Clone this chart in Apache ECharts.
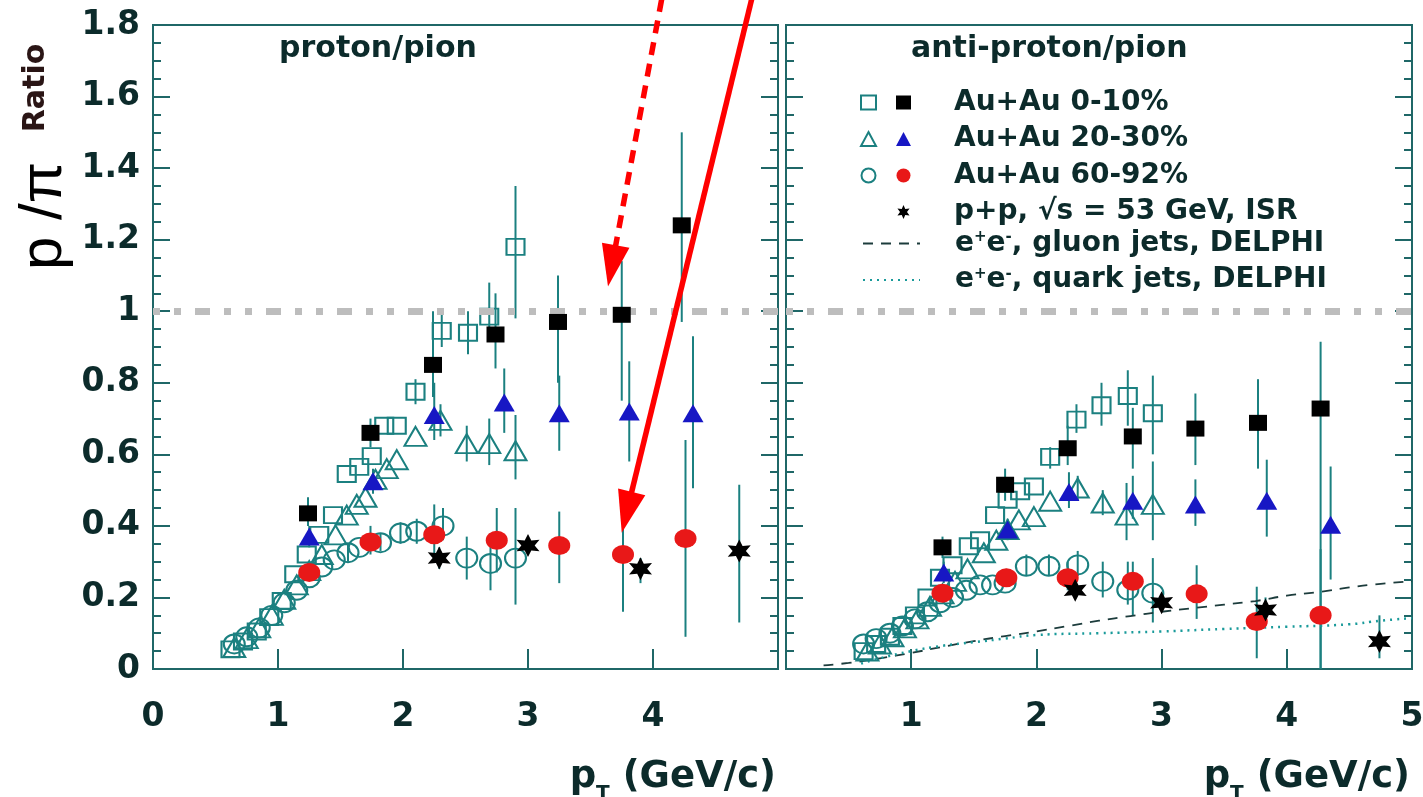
<!DOCTYPE html>
<html>
<head>
<meta charset="utf-8">
<script src="https://cdn.jsdelivr.net/npm/echarts@6.0.0/dist/echarts.min.js"></script>
<style>html,body{margin:0;padding:0;background:#fff}#chart{width:1423px;height:797px}</style>
</head>
<body>
<div id="chart"></div>
<script>
// ---- proton/pion (left panel): [pT, ratio]
const ppOpenSq = [[0.62,0.055],[0.72,0.077],[0.83,0.105],[0.93,0.145],[1.03,0.19],[1.13,0.265],[1.23,0.32],[1.33,0.375],[1.44,0.43],[1.55,0.545],[1.65,0.565],[1.75,0.595],[1.85,0.68],[1.95,0.68],[2.1,0.775],[2.31,0.945],[2.52,0.94],[2.69,0.985],[2.9,1.18]];
const ppOpenTri = [[0.65,0.06],[0.75,0.085],[0.85,0.115],[0.95,0.15],[1.05,0.195],[1.15,0.235],[1.25,0.275],[1.35,0.32],[1.46,0.375],[1.55,0.43],[1.63,0.46],[1.7,0.48],[1.78,0.53],[1.87,0.56],[1.95,0.585],[2.1,0.65],[2.3,0.695],[2.51,0.63],[2.69,0.63],[2.9,0.61]];
const ppOpenCirc = [[0.65,0.07],[0.75,0.09],[0.85,0.115],[0.95,0.15],[1.05,0.185],[1.15,0.22],[1.25,0.255],[1.35,0.285],[1.45,0.305],[1.56,0.325],[1.65,0.34],[1.82,0.353],[1.98,0.38],[2.11,0.385],[2.32,0.40],[2.51,0.31],[2.7,0.295],[2.9,0.31]];
const ppFillSq = [[1.24,0.435],[1.74,0.66],[2.24,0.85],[2.74,0.935],[3.24,0.97],[3.75,0.99],[4.23,1.24]];
const ppFillTri = [[1.25,0.37],[1.76,0.525],[2.25,0.71],[2.81,0.745],[3.25,0.715],[3.81,0.72],[4.32,0.715]];
const ppFillCirc = [[1.25,0.27],[1.74,0.355],[2.25,0.375],[2.75,0.36],[3.25,0.345],[3.76,0.32],[4.26,0.365]];
const ppStar = [[2.29,0.31],[3.0,0.345],[3.9,0.28],[4.69,0.33]];
// error bars: [pT, low, high]
const ppOpenSqErr = [[2.1,0.74,0.81],[2.31,0.90,1.0],[2.52,0.88,1.0],[2.69,0.92,1.08],[2.9,0.98,1.35]];
const ppOpenTriErr = [[2.3,0.65,0.74],[2.51,0.58,0.68],[2.69,0.57,0.70],[2.9,0.53,0.71]];
const ppOpenCircErr = [[1.56,0.30,0.35],[1.82,0.33,0.38],[1.98,0.35,0.41],[2.11,0.35,0.42],[2.32,0.36,0.45],[2.51,0.25,0.37],[2.7,0.22,0.38],[2.9,0.18,0.45]];
const ppFillSqErr = [[1.24,0.40,0.48],[1.74,0.62,0.70],[2.24,0.76,1.0],[2.74,0.84,1.05],[3.24,0.80,1.10],[3.75,0.75,1.14],[4.23,0.97,1.50]];
const ppFillTriErr = [[1.25,0.34,0.40],[1.76,0.49,0.56],[2.25,0.64,0.80],[2.81,0.66,0.84],[3.25,0.61,0.82],[3.81,0.58,0.86],[4.32,0.505,0.93]];
const ppFillCircErr = [[1.74,0.32,0.40],[2.25,0.30,0.46],[2.75,0.27,0.45],[3.25,0.24,0.44],[3.76,0.16,0.45],[4.26,0.09,0.64]];
const ppStarErr = [[2.29,0.28,0.34],[3.0,0.32,0.37],[3.9,0.24,0.31],[4.69,0.13,0.515]];

// ---- anti-proton/pion (right panel)
const apOpenSq = [[0.62,0.05],[0.72,0.07],[0.83,0.09],[0.93,0.12],[1.03,0.15],[1.13,0.2],[1.23,0.255],[1.33,0.29],[1.46,0.343],[1.55,0.36],[1.67,0.43],[1.77,0.473],[1.87,0.497],[1.98,0.51],[2.11,0.593],[2.32,0.697],[2.52,0.737],[2.73,0.763],[2.93,0.715]];
const apOpenTri = [[0.65,0.05],[0.75,0.07],[0.85,0.09],[0.95,0.115],[1.05,0.14],[1.15,0.175],[1.25,0.21],[1.35,0.245],[1.45,0.28],[1.58,0.325],[1.68,0.36],[1.77,0.39],[1.86,0.417],[1.98,0.426],[2.11,0.469],[2.33,0.506],[2.53,0.464],[2.72,0.43],[2.93,0.46]];
const apOpenCirc = [[0.62,0.07],[0.72,0.085],[0.83,0.1],[0.93,0.12],[1.03,0.14],[1.13,0.16],[1.23,0.185],[1.33,0.2],[1.44,0.22],[1.55,0.235],[1.65,0.235],[1.75,0.24],[1.92,0.287],[2.1,0.287],[2.33,0.291],[2.53,0.245],[2.73,0.221],[2.93,0.212]];
const apFillSq = [[1.25,0.34],[1.75,0.515],[2.25,0.617],[2.77,0.65],[3.27,0.672],[3.77,0.688],[4.27,0.728]];
const apFillTri = [[1.26,0.27],[1.77,0.39],[2.26,0.495],[2.77,0.47],[3.27,0.46],[3.84,0.47],[4.35,0.403]];
const apFillCirc = [[1.25,0.212],[1.76,0.255],[2.25,0.255],[2.77,0.245],[3.28,0.21],[3.76,0.133],[4.27,0.15]];
const apStar = [[2.31,0.22],[3.0,0.185],[3.83,0.165],[4.74,0.077]];
const apOpenSqErr = [[2.11,0.56,0.62],[2.32,0.66,0.74],[2.52,0.68,0.80],[2.73,0.68,0.835],[2.93,0.60,0.82]];
const apOpenTriErr = [[2.33,0.47,0.54],[2.53,0.43,0.50],[2.72,0.36,0.52],[2.93,0.36,0.58]];
const apOpenCircErr = [[1.92,0.26,0.32],[2.1,0.26,0.32],[2.33,0.26,0.33],[2.53,0.2,0.30],[2.73,0.18,0.30],[2.93,0.13,0.31]];
const apFillSqErr = [[1.25,0.31,0.37],[1.75,0.47,0.56],[2.25,0.57,0.68],[2.77,0.56,0.73],[3.27,0.57,0.77],[3.77,0.56,0.81],[4.27,-0.1,0.915]];
const apFillTriErr = [[1.26,0.24,0.30],[1.77,0.36,0.42],[2.26,0.45,0.55],[2.77,0.42,0.54],[3.27,0.40,0.53],[3.84,0.37,0.585],[4.35,0.25,0.566]];
const apFillCircErr = [[1.76,0.23,0.28],[2.25,0.22,0.30],[2.77,0.15,0.30],[3.28,0.14,0.29],[3.76,0.03,0.23],[4.27,-0.1,0.335]];
const apStarErr = [[2.31,0.2,0.24],[3.0,0.17,0.2],[3.83,0.13,0.2],[4.74,0.03,0.15]];

// DELPHI e+e- curves (right panel)
const gluonJets = [[0.3,0.01],[0.5,0.017],[0.75,0.03],[1.0,0.045],[1.25,0.062],[1.5,0.078],[1.75,0.092],[2.0,0.105],[2.25,0.12],[2.5,0.135],[2.75,0.148],[3.0,0.16],[3.25,0.17],[3.5,0.18],[3.75,0.19],[4.0,0.205],[4.25,0.215],[4.5,0.228],[4.75,0.238],[5.0,0.245]];
const quarkJets = [[0.6,0.015],[0.75,0.03],[1.0,0.05],[1.25,0.065],[1.5,0.075],[1.75,0.085],[2.0,0.095],[2.5,0.1],[3.0,0.105],[3.5,0.112],[4.0,0.118],[4.5,0.125],[4.75,0.135],[5.0,0.142]];

const unity = 1;
// red annotation arrows, [start, tip] in left-panel data units
const dottedArrow = [[4.07,1.873],[3.64,1.069]];
const solidArrow = [[4.79,1.873],[3.75,0.381]];

const FRAME = '#1f6767', BAR = '#1b8080', INK = '#0c2b2b';
const STAR = 'path://M50 0L62.5 28.3L93.3 25L75 50L93.3 75L62.5 71.7L50 100L37.5 71.7L6.7 75L25 50L6.7 25L37.5 28.3Z';
const NONE = 'rgba(255,255,255,0)';
const labelFont = { fontFamily: 'DejaVu Sans', fontWeight: 'bold', fontSize: 33, color: INK };

function marks(name, data, gi, symbol, size, fill, stroke, z) {
  return {
    name, type: 'scatter', xAxisIndex: gi, yAxisIndex: gi * 2, data, symbol, symbolSize: size, z,
    itemStyle: { color: fill, borderColor: stroke || fill, borderWidth: stroke ? 2 : 0, opacity: 1 }
  };
}

function bars(data, gi) {
  return {
    type: 'custom', xAxisIndex: gi, yAxisIndex: gi * 2, data, z: 1, clip: true,
    encode: { x: 0, y: [1, 2] },
    renderItem: (params, api) => {
      const lo = api.coord([api.value(0), api.value(1)]);
      const hi = api.coord([api.value(0), api.value(2)]);
      return { type: 'line', shape: { x1: lo[0], y1: lo[1], x2: hi[0], y2: hi[1] }, style: { stroke: BAR, lineWidth: 2 } };
    }
  };
}

function unityLine(gi) {
  return {
    type: 'line', xAxisIndex: gi, yAxisIndex: gi * 2, data: [], z: 10,
    markLine: {
      silent: true, symbol: 'none', label: { show: false },
      lineStyle: { color: '#bdbdbd', width: 7, type: [7, 14, 7, 14, 15, 14] },
      data: [{ yAxis: unity }]
    }
  };
}

function xAx(gi, hide) {
  return {
    gridIndex: gi, type: 'value', min: 0, max: 5, interval: 1,
    axisLine: { lineStyle: { color: FRAME, width: 2 } },
    axisTick: { inside: true, length: 20, lineStyle: { color: FRAME, width: 2 } },
    splitLine: { show: false },
    axisLabel: Object.assign({ margin: 32, formatter: v => (v === hide ? '' : v) }, labelFont),
    name: '{p|p}{s|T}{n| (GeV/c)}', nameLocation: 'end', nameGap: -2,
    nameTextStyle: {
      align: 'right', verticalAlign: 'top', padding: [90, 0, 0, 0],
      rich: {
        p: { fontFamily: 'DejaVu Sans', fontWeight: 'bold', fontSize: 37, color: INK },
        s: { fontFamily: 'DejaVu Sans', fontWeight: 'bold', fontSize: 20, color: INK, verticalAlign: 'bottom', padding: [0, 0, -8, 0] },
        n: { fontFamily: 'DejaVu Sans', fontWeight: 'bold', fontSize: 37, color: INK }
      }
    }
  };
}

function yAx(gi, side, labels) {
  return {
    gridIndex: gi, type: 'value', position: side, min: 0, max: 1.8, interval: 0.2,
    axisLine: { show: true, lineStyle: { color: FRAME, width: 2 } },
    axisTick: { inside: true, length: 17, lineStyle: { color: FRAME, width: 2 } },
    minorTick: { show: true, splitNumber: 4, length: 8, lineStyle: { color: FRAME, width: 2 } },
    splitLine: { show: false },
    axisLabel: Object.assign({ show: labels, margin: 13 }, labelFont)
  };
}

const N0 = 'Au+Au 0-10%', N1 = 'Au+Au 20-30%', N2 = 'Au+Au 60-92%', NPP = 'p+p, √s = 53 GeV, ISR';
const NG = 'e+e-, gluon jets, DELPHI', NQ = 'e+e-, quark jets, DELPHI';
const legendText = { fontFamily: 'DejaVu Sans', fontWeight: 'bold', fontSize: 28, lineHeight: 27, color: INK };

const option = {
  animation: false,
  backgroundColor: '#fff',
  grid: [
    { left: 153, top: 25, width: 625, height: 644, show: true, borderColor: FRAME, borderWidth: 2, outerBoundsMode: 'none' },
    { left: 786, top: 25, width: 626, height: 644, show: true, borderColor: FRAME, borderWidth: 2, outerBoundsMode: 'none' }
  ],
  title: [
    { text: 'proton/pion', left: 279, top: 34, padding: 0, textStyle: { fontFamily: 'DejaVu Sans', fontWeight: 'bold', fontSize: 30, color: INK } },
    { text: 'anti-proton/pion', left: 911, top: 34, padding: 0, textStyle: { fontFamily: 'DejaVu Sans', fontWeight: 'bold', fontSize: 30, color: INK } }
  ],
  legend: [
    {
      left: 860, top: 88.5, padding: 0, orient: 'vertical', itemGap: 8.5, itemWidth: 15, itemHeight: 14, selectedMode: false,
      data: ['open 0-10%', 'open 20-30%', 'open 60-92%'], formatter: () => ' ', textStyle: legendText
    },
    {
      left: 896, top: 88.5, padding: 0, orient: 'vertical', itemGap: 8.5, itemWidth: 15, itemHeight: 14, selectedMode: false,
      data: [N0, N1, N2, NPP], formatter: n => '{g|}' + n,
      textStyle: Object.assign({ rich: { g: { width: 38 } } }, legendText)
    },
    {
      left: 862, top: 229.5, padding: 0, orient: 'vertical', itemGap: 8.5, itemWidth: 57, itemHeight: 14, selectedMode: false,
      itemStyle: { opacity: 0 },
      data: [NG, NQ], formatter: n => '{g|}e{sup|+}e{sup|-}' + n.slice(4),
      textStyle: Object.assign({ rich: { g: { width: 30 }, sup: { fontSize: 15, verticalAlign: 'top', lineHeight: 27 } } }, legendText)
    }
  ],
  xAxis: [xAx(0, 5), xAx(1, 0)],
  yAxis: [yAx(0, 'left', true), yAx(0, 'right', false), yAx(1, 'left', false), yAx(1, 'right', false)],
  series: [
    bars(ppOpenSqErr, 0), bars(ppOpenTriErr, 0), bars(ppOpenCircErr, 0), bars(ppFillSqErr, 0),
    bars(ppFillTriErr, 0), bars(ppFillCircErr, 0), bars(ppStarErr, 0),
    bars(apOpenSqErr, 1), bars(apOpenTriErr, 1), bars(apOpenCircErr, 1), bars(apFillSqErr, 1),
    bars(apFillTriErr, 1), bars(apFillCircErr, 1), bars(apStarErr, 1),
    { name: NG, type: 'line', xAxisIndex: 1, yAxisIndex: 2, data: gluonJets, symbol: 'none', smooth: true, z: 3,
      itemStyle: { color: '#1c3c3c' }, lineStyle: { color: '#1c3c3c', width: 1.8, type: [10, 8] } },
    { name: NQ, type: 'line', xAxisIndex: 1, yAxisIndex: 2, data: quarkJets, symbol: 'none', smooth: true, z: 3,
      itemStyle: { color: '#199a9a' }, lineStyle: { color: '#199a9a', width: 2.5, type: [2, 5] } },
    marks('open 0-10%', ppOpenSq, 0, 'rect', [18, 16], NONE, BAR, 4),
    marks('open 20-30%', ppOpenTri, 0, 'triangle', [22, 19], NONE, BAR, 4),
    marks('open 60-92%', ppOpenCirc, 0, 'circle', [21, 19], NONE, BAR, 4),
    marks('open 0-10%', apOpenSq, 1, 'rect', [18, 16], NONE, BAR, 4),
    marks('open 20-30%', apOpenTri, 1, 'triangle', [22, 19], NONE, BAR, 4),
    marks('open 60-92%', apOpenCirc, 1, 'circle', [21, 19], NONE, BAR, 4),
    marks(N0, ppFillSq, 0, 'rect', [18, 16], '#000', null, 5),
    marks(N1, ppFillTri, 0, 'triangle', [21, 18], '#1717c4', null, 5),
    marks(N2, ppFillCirc, 0, 'circle', [22, 19], '#e81818', null, 5),
    marks(NPP, ppStar, 0, STAR, [23, 23], '#000', null, 5),
    marks(N0, apFillSq, 1, 'rect', [18, 16], '#000', null, 5),
    marks(N1, apFillTri, 1, 'triangle', [21, 18], '#1717c4', null, 5),
    marks(N2, apFillCirc, 1, 'circle', [22, 19], '#e81818', null, 5),
    marks(NPP, apStar, 1, STAR, [23, 23], '#000', null, 5),
    unityLine(0), unityLine(1)
  ]
};

const chart = echarts.init(document.getElementById('chart'), null, { renderer: 'canvas' });
chart.setOption(option);

// y title and red arrows, placed from the left grid's scales
function arrow(pair, dashed) {
  const a = chart.convertToPixel({ gridIndex: 0 }, pair[0]);
  const b = chart.convertToPixel({ gridIndex: 0 }, pair[1]);
  const dx = b[0] - a[0], dy = b[1] - a[1], L = Math.hypot(dx, dy);
  const ux = dx / L, uy = dy / L, hl = 42, hw = 14;
  const base = [b[0] - ux * hl, b[1] - uy * hl];
  return [
    { type: 'line', z: 20, shape: { x1: a[0], y1: a[1], x2: base[0] + ux * 4, y2: base[1] + uy * 4 },
      style: { stroke: '#ff0000', lineWidth: 5.5, lineDash: dashed ? [13, 9] : null } },
    { type: 'polygon', z: 20, shape: { points: [b, [base[0] - uy * hw, base[1] + ux * hw], [base[0] + uy * hw, base[1] - ux * hw]] },
      style: { fill: '#ff0000' } }
  ];
}

chart.setOption({
  graphic: [
    { type: 'text', x: 44, y: 216, rotation: Math.PI / 2,
      style: { text: 'p /π', font: '60px "Liberation Sans"', fill: '#000', align: 'center', verticalAlign: 'middle', textAlign: 'center', textVerticalAlign: 'middle' } },
    { type: 'text', x: 36, y: 88, rotation: Math.PI / 2,
      style: { text: 'Ratio', font: 'bold 30px "DejaVu Sans"', fill: '#2a1515', align: 'center', verticalAlign: 'middle', textAlign: 'center', textVerticalAlign: 'middle' } }
  ].concat(arrow(dottedArrow, true), arrow(solidArrow, false))
});
</script>
</body>
</html>
